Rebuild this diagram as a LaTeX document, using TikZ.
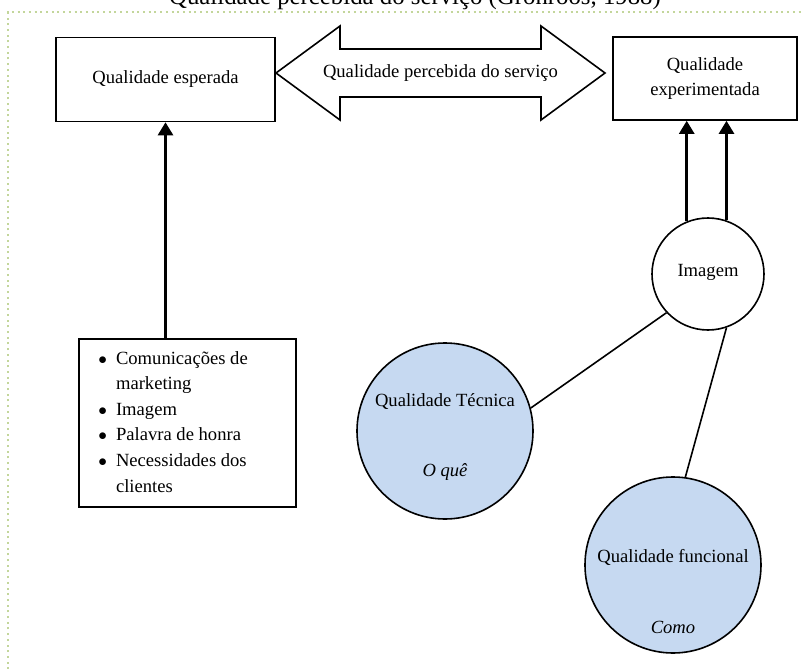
\documentclass[tikz,border=0pt]{standalone}
\usepackage{fontspec}
\setmainfont{Liberation Serif}
\usepackage{xcolor}
\usetikzlibrary{arrows.meta,positioning}
\definecolor{azulclaro}{RGB}{198,217,241}
\definecolor{oliva}{RGB}{195,214,155}
\tikzset{
caixa/.style={draw,line width=1.6pt,inner sep=0pt},
circulo/.style={circle,draw,line width=1.6pt,inner sep=0pt,minimum size=#1},
seta/.style={line width=2.6pt,-{Triangle[length=13pt,width=15pt]}},
ligacao/.style={line width=1.6pt}
}
\begin{document}
\begin{tikzpicture}[x=1pt,y=-1pt,font={\fontsize{18.6}{25.6}\selectfont}]
\useasboundingbox(0,0)rectangle(804,669);
\draw[oliva,line width=2pt,dash pattern=on 2pt off 3.7pt](8,675)--(8,12)--(810,12);
\node[anchor=base,font={\fontsize{24.8}{30}\selectfont}](titulo)at(415,5){Qualidade percebida do serviço (Grönroos, 1988)};
\node[caixa,minimum width=219,minimum height=84](esperada)at(165.5,79.5){Qualidade esperada};
\node[caixa,minimum width=184,minimum height=83,align=center](experimentada)at(705,78.5){Qualidade\\experimentada};
\draw[line width=1.6pt,line join=miter](276,73)--(340,26)--(340,49)--(541,49)--(541,26)--(605,73)
--(541,120)--(541,97)--(340,97)--(340,120)--cycle;
\node(percebida)at(440.5,73){Qualidade percebida do serviço};
% fatores da qualidade esperada
\node[caixa,minimum width=217,minimum height=168](fatores)at(187.5,423){};
\node[anchor=west,inner sep=0pt](lista)at([xshift=20]fatores.west){\begin{tabular}{@{}l@{\hspace{9pt}}l@{}}
$\bullet$&Comunicações de\\&marketing\\$\bullet$&Imagem\\$\bullet$&Palavra de honra\\
$\bullet$&Necessidades dos\\&clientes\end{tabular}};
\draw[seta](fatores.north -| esperada.south)--(esperada.south);
% circulos
\node[circulo=112](imagem)at(708,274){};
\node(imagemtxt)at([yshift=2]imagem.center){Imagem};
\node[circulo=176,fill=azulclaro](tecnica)at(445,431){};
\node(tecnicatxt)at([yshift=29]tecnica.center){Qualidade Técnica};
\node(oque)at([yshift=-41]tecnica.center){\itshape O quê};
\node[circulo=176,fill=azulclaro](funcional)at(673,565){};
\node(funcionaltxt)at([yshift=8]funcional.center){Qualidade funcional};
\node(como)at([yshift=-62]funcional.center){\itshape Como};
\draw[seta](imagem.112)--(imagem.112 |- experimentada.south);
\draw[seta](imagem.71)--(imagem.71 |- experimentada.south);
\draw[ligacao](imagem.223)--(tecnica.15);
\draw[ligacao](imagem.-71)--(funcional.82);
\end{tikzpicture}
\end{document}
